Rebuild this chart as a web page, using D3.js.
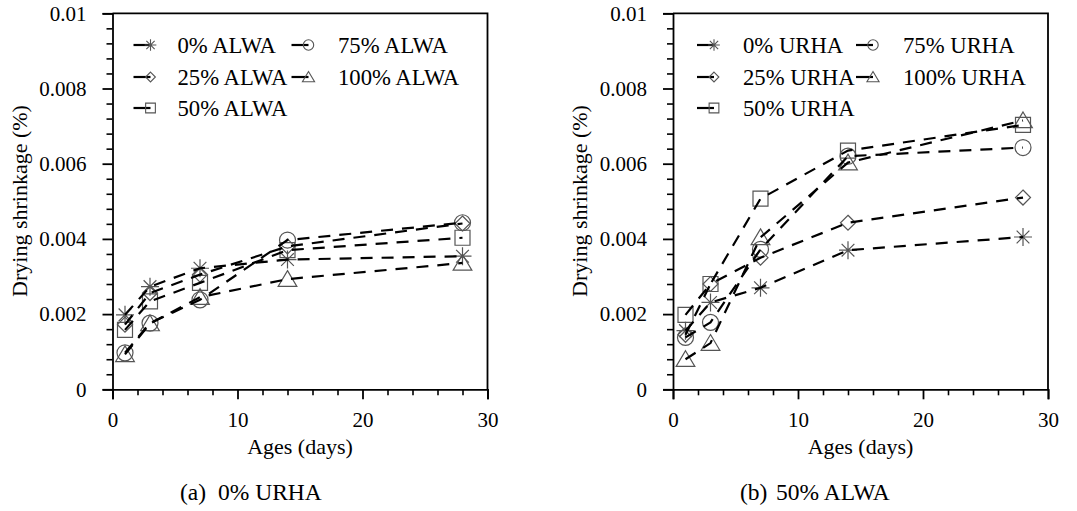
<!DOCTYPE html>
<html><head><meta charset="utf-8">
<script src="https://cdn.jsdelivr.net/npm/d3@7/dist/d3.min.js"></script>
<style>
html,body{margin:0;padding:0;background:#fff;}
svg text{font-family:"Liberation Serif","Times New Roman",serif;fill:#000;}
</style></head>
<body><svg id="c" width="1077" height="511"></svg>
<script>
// ---------- data ----------
const days = [1, 3, 7, 14, 28];
const namesA = ["0% ALWA", "25% ALWA", "50% ALWA", "75% ALWA", "100% ALWA"];
const namesB = ["0% URHA", "25% URHA", "50% URHA", "75% URHA", "100% URHA"];
const markerTypes = ["asterisk", "diamond", "square", "circle", "triangle"];
// panel (a) 0% URHA
const a_0   = [0.00198, 0.00273, 0.00322, 0.00345, 0.00354];
const a_25  = [0.00172, 0.00256, 0.00305, 0.00380, 0.00441];
const a_50  = [0.00158, 0.00234, 0.00283, 0.00370, 0.00403];
const a_75  = [0.00097, 0.00176, 0.00238, 0.00397, 0.00443];
const a_100 = [0.00093, 0.00175, 0.00245, 0.00293, 0.00336];
// panel (b) 50% ALWA
const b_0   = [0.00156, 0.00231, 0.00270, 0.00370, 0.00405];
const b_25  = [0.00145, 0.00280, 0.00350, 0.00443, 0.00510];
const b_50  = [0.00198, 0.00280, 0.00507, 0.00635, 0.00703];
const b_75  = [0.00138, 0.00178, 0.00372, 0.00620, 0.00643];
const b_100 = [0.00080, 0.00123, 0.00404, 0.00603, 0.00715];
const yTicks = [0, 0.002, 0.004, 0.006, 0.008, 0.01];
const yTickLabels = ["0", "0.002", "0.004", "0.006", "0.008", "0.01"];
const xTicks = [0, 10, 20, 30];
const xTickLabels = ["0", "10", "20", "30"];
const xTitle = "Ages (days)";
const yTitle = "Drying shrinkage (%)";
const captions = [["(a)", "0% URHA"], ["(b)", "50% ALWA"]];

// ---------- drawing ----------
const svg = d3.select("#c");
const FS = 21;
const LFS = 22.7;
const CFS = 23.5;
const MARK = "#555";

function markerPath(type, s) {
  switch (type) {
    case "asterisk": {
      let p = "";
      for (let k = 0; k < 4; k++) {
        const a = k * Math.PI / 4;
        const dx = s * Math.cos(a), dy = s * Math.sin(a);
        p += `M${-dx},${-dy}L${dx},${dy}`;
      }
      return p;
    }
    case "diamond": return `M0,${-s}L${s},0L0,${s}L${-s},0Z`;
    case "square": return `M${-s},${-s}H${s}V${s}H${-s}Z`;
    case "circle": return `M${s},0A${s},${s},0,1,1,${-s},0A${s},${s},0,1,1,${s},0Z`;
    case "triangle": return `M0,${-s}L${s * 1.1},${s * 0.85}L${-s * 1.1},${s * 0.85}Z`;
  }
}
const sizeFor = {asterisk: 9, diamond: 7.5, square: 7.5, circle: 8, triangle: 8.5};

function panel(cfg) {
  const x = d3.scaleLinear().domain([0, 30]).range([cfg.x0, cfg.x0 + 375]);
  const y = d3.scaleLinear().domain([0, 0.01]).range([389.3, 13.3]);
  const g = svg.append("g");

  const yMinor = d3.range(0, 0.01001, 0.0004).filter(v => !yTicks.some(t => Math.abs(t - v) < 1e-9));
  const xMinor = d3.range(0, 30.01, 2).filter(v => v % 10 !== 0);
  g.append("g").attr("transform", `translate(${cfg.x0},0)`)
    .call(d3.axisLeft(y).tickValues(yMinor).tickSize(6).tickFormat(""))
    .call(a => a.select(".domain").remove())
    .call(a => a.selectAll("line").attr("stroke-width", 1.6));
  g.append("g").attr("transform", `translate(0,389.3)`)
    .call(d3.axisBottom(x).tickValues(xMinor).tickSize(6).tickFormat(""))
    .call(a => a.select(".domain").remove())
    .call(a => a.selectAll("line").attr("stroke-width", 1.6));

  g.append("g").attr("transform", `translate(${cfg.x0},0)`)
    .call(d3.axisLeft(y).tickValues(yTicks).tickSize(10).tickPadding(16)
      .tickFormat((d, i) => yTickLabels[i]))
    .call(a => a.select(".domain").attr("stroke-width", 1.8))
    .call(a => a.selectAll("line").attr("stroke-width", 1.8))
    .call(a => a.selectAll("text").attr("font-size", FS));
  g.append("g").attr("transform", `translate(0,389.3)`)
    .call(d3.axisBottom(x).tickValues(xTicks).tickSize(10).tickPadding(13)
      .tickFormat((d, i) => xTickLabels[i]))
    .call(a => a.select(".domain").attr("stroke-width", 1.8))
    .call(a => a.selectAll("line").attr("stroke-width", 1.8))
    .call(a => a.selectAll("text").attr("font-size", FS));

  g.append("path")
    .attr("d", `M${x(0)},${y(0.01)}H${x(30)}V${y(0)}`)
    .attr("fill", "none").attr("stroke", "#000").attr("stroke-width", 1.8);

  g.append("text").attr("x", (x(0) + x(30)) / 2).attr("y", 454)
    .attr("text-anchor", "middle").attr("font-size", 22).text(xTitle);
  g.append("text").attr("transform", `translate(${cfg.x0 - 86},${201}) rotate(-90)`)
    .attr("text-anchor", "middle").attr("font-size", 22).text(yTitle);
  g.append("text").attr("x", cfg.capX).attr("y", 500).attr("font-size", CFS).text(cfg.caption[0]);
  g.append("text").attr("x", cfg.capX + cfg.capGap).attr("y", 500).attr("font-size", CFS).text(cfg.caption[1]);

  const line = d3.line().x((d, i) => x(days[i])).y(d => y(d));

  cfg.series.forEach((s, k) => {
    const t = markerTypes[k];
    g.append("g").selectAll("path").data(s).join("path")
      .attr("transform", (d, i) => `translate(${x(days[i])},${y(d)})`)
      .attr("d", markerPath(t, sizeFor[t]))
      .attr("fill", "none").attr("stroke", MARK).attr("stroke-width", 1.2);
  });
  cfg.series.forEach((s, k) => {
    g.append("path").datum(s).attr("d", line)
      .attr("fill", "none").attr("stroke", "#000").attr("stroke-width", 2.2)
      .attr("stroke-dasharray", "12,9");
  });

  const rows = [45, 77, 108];
  cfg.names.forEach((n, k) => {
    const col = k < 3 ? 0 : 1, row = k < 3 ? k : k - 3;
    const mx = cfg.x0 + (col === 0 ? cfg.lg.m1 : cfg.lg.m2);
    const tx = cfg.x0 + (col === 0 ? cfg.lg.t1 : cfg.lg.t2);
    const yy = rows[row];
    const t = markerTypes[k];
    g.append("line").attr("x1", mx - 17).attr("x2", mx).attr("y1", yy).attr("y2", yy)
      .attr("stroke", "#000").attr("stroke-width", 2.2);
    g.append("path").attr("transform", `translate(${mx},${yy})`)
      .attr("d", markerPath(t, sizeFor[t] * 0.65))
      .attr("fill", "none").attr("stroke", MARK).attr("stroke-width", 1.1);
    g.append("text").attr("x", tx).attr("y", yy + 7.5).attr("font-size", LFS).text(n);
  });
}

panel({x0: 112.5, series: [a_0, a_25, a_50, a_75, a_100], names: namesA,
  caption: captions[0], capX: 180, capGap: 38,
  lg: {m1: 38, t1: 65, m2: 196, t2: 225.5}});
panel({x0: 673, series: [b_0, b_25, b_50, b_75, b_100], names: namesB,
  caption: captions[1], capX: 740, capGap: 36,
  lg: {m1: 41, t1: 70, m2: 200, t2: 230}});
</script></body></html>
